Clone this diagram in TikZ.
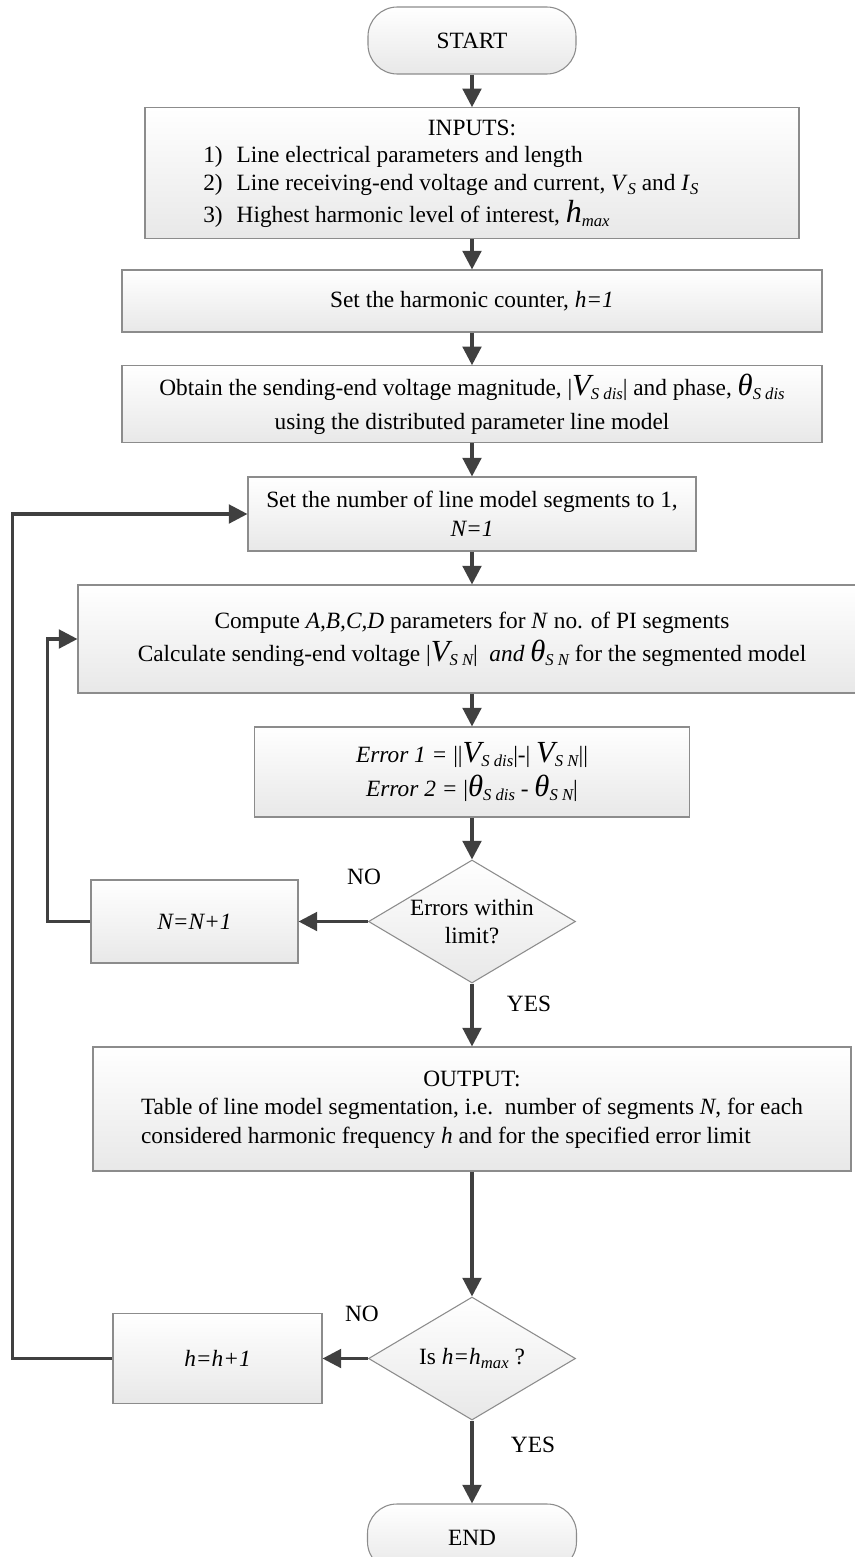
\documentclass[tikz,border=0pt]{standalone}
\usepackage{fontspec}
\setmainfont{Liberation Serif}
\usetikzlibrary{arrows.meta,shapes.geometric}
\definecolor{conn}{HTML}{404040}
\definecolor{boxline}{HTML}{8C8C8C}
\definecolor{boxfill}{HTML}{E8E8E8}
\newcommand{\mainsize}{\fontsize{17.5}{21.5}\selectfont}
\newcommand{\bigV}{{\fontsize{23}{23}\selectfont\itshape V}}
\newcommand{\bigth}{{\fontsize{23}{23}\selectfont\itshape θ}}
\newcommand{\bigh}{{\fontsize{24}{24}\selectfont\itshape h}}
\newcommand{\sbs}[1]{\raisebox{-3.2pt}{\fontsize{12.5}{12.5}\selectfont\itshape #1}}
\begin{document}
\begin{tikzpicture}[x=0.75pt,y=-0.75pt,
  box/.style={draw=boxline, line width=0.8pt, top color=white, bottom color=boxfill, inner sep=0pt, font=\mainsize, align=center},
  term/.style={box, rounded corners=22pt},
  dia/.style={draw=boxline, line width=0.8pt, top color=white, bottom color=boxfill, diamond, inner sep=0pt, minimum width=155.25pt, minimum height=92.25pt},
  txt/.style={font=\mainsize, align=center, inner sep=0pt},
  conn/.style={draw=conn, line width=2.4pt},
  arr/.style={conn, -{Triangle[width=14pt,length=14pt]}}
]
\useasboundingbox (0,0) rectangle (855,1557);
\fill[white] (0,0) rectangle (855,1557);

% nodes
\node[term, minimum width=156pt, minimum height=50.25pt] (start) at (472,40.5) {START};
\node[box, minimum width=490.5pt, minimum height=98.25pt] (inp) at (472,173.25) {};
\node[txt] (inpt) at (472,128) {INPUTS:};
\node[txt, anchor=base west] (i1) at (203,162) {1)\hspace{0.6em}Line electrical parameters and length};
\node[txt, anchor=base west] (i2) at (203,190) {2)\hspace{0.6em}Line receiving-end voltage and current, \textit{V}\sbs{S} and \textit{I}\sbs{S}};
\node[txt, anchor=base west] (i3) at (203,222) {3)\hspace{0.6em}Highest harmonic level of interest, \bigh\sbs{max}};

\node[box, minimum width=525pt, minimum height=46.5pt] (b2) at (472,301) {Set the harmonic counter, \textit{h=1}};
\node[box, minimum width=525pt, minimum height=57.75pt] (b3) at (472,404.25) {Obtain the sending-end voltage magnitude, |\bigV\sbs{S dis}| and phase, \bigth\sbs{S dis}\\[4pt] using the distributed parameter line model};
\node[box, minimum width=336pt, minimum height=55.5pt] (b4) at (472,514) {Set the number of line model segments to 1,\\ \textit{N=1}};
\node[box, minimum width=591pt, minimum height=81pt] (b5) at (472,639) {Compute \textit{A,B,C,D} parameters for \textit{N} no. of PI segments\\[3pt] Calculate sending-end voltage |\bigV\sbs{S N}|~ \textit{and} \bigth\sbs{S N} for the segmented model};
\node[box, minimum width=326.25pt, minimum height=67.5pt] (b6) at (472,772) {\textit{Error 1 =} ||\bigV\sbs{S dis}|-| \bigV\sbs{S N}||\\[4pt] \textit{Error 2 =} |\bigth\sbs{S dis} - \bigth\sbs{S N}|};

\node[dia] (d1) at (472,921.5) {};
\node[txt] (d1t) at (472,921.5) {Errors within\\limit?};
\node[box, minimum width=155.25pt, minimum height=62.25pt] (n1) at (194.5,921.5) {\textit{N=N+1}};

\node[box, minimum width=568.5pt, minimum height=93pt] (out) at (472,1109) {\begin{tabular}{@{}l@{}}\multicolumn{1}{c}{OUTPUT:}\\ Table of line model segmentation, i.e.\ \ number of segments \textit{N}, for each\\ considered harmonic frequency \textit{h} and for the specified error limit\end{tabular}};

\node[dia] (d2) at (472,1358.5) {};
\node[txt] (d2t) at (472,1358.5) {Is \textit{h=h}\sbs{max} ?};
\node[box, minimum width=156.75pt, minimum height=67.5pt] (h1) at (217.5,1358.5) {\textit{h=h+1}};

\node[term, minimum width=156.75pt, minimum height=50.25pt] (end) at (472,1537.5) {END};

% labels
\node[txt] (no1) at (364,877) {NO};
\node[txt] (yes1) at (529,1004) {YES};
\node[txt] (no2) at (362,1314) {NO};
\node[txt] (yes2) at (533,1445) {YES};

% connectors
\draw[arr] (start.south) -- (inp.north);
\draw[arr] (inp.south) -- (b2.north);
\draw[arr] (b2.south) -- (b3.north);
\draw[arr] (b3.south) -- (b4.north);
\draw[arr] (b4.south) -- (b5.north);
\draw[arr] (b5.south) -- (b6.north);
\draw[arr] (b6.south) -- (d1.north);
\draw[arr] (d1.west) -- (n1.east);
\draw[arr] (n1.west) -- ++(-43,0) |- (b5.west);
\draw[arr] (d1.south) -- (out.north);
\draw[arr] (out.south) -- (d2.north);
\draw[arr] (d2.west) -- (h1.east);
\draw[arr] (h1.west) -- ++(-100,0) |- (b4.west);
\draw[arr] (d2.south) -- (end.north);
\end{tikzpicture}
\end{document}
